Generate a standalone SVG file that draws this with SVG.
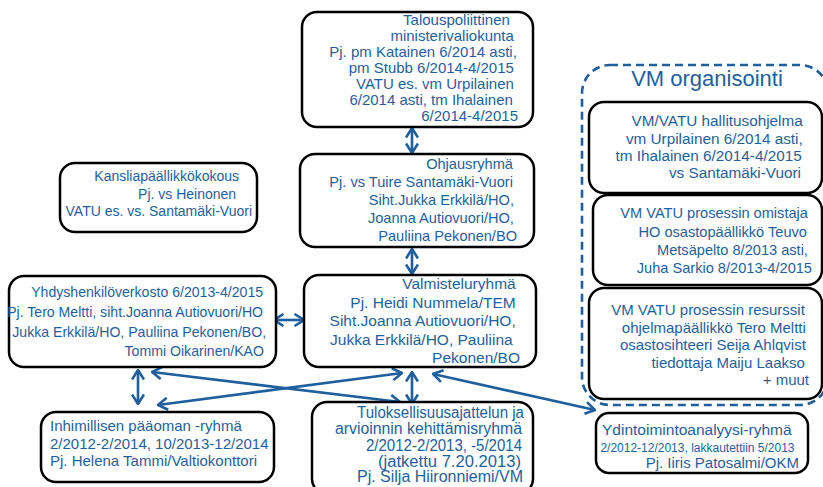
<svg xmlns="http://www.w3.org/2000/svg" width="823" height="487" viewBox="0 0 823 487">
<defs>
<style>
.box{fill:#fff;stroke:#000;stroke-width:2.5}
.t{font-family:"Liberation Sans",Arial,sans-serif;fill:#1f5f9e}
.r{text-anchor:end}
.c{fill:none;stroke:#1f5f9e;stroke-width:2.6;marker-start:url(#ah);marker-end:url(#ah)}
.dash{fill:none;stroke:#1f5f9e;stroke-width:2.6;stroke-dasharray:8 5}
</style>
<marker id="ah" viewBox="0 0 12 14" refX="11" refY="7" markerWidth="12" markerHeight="14" markerUnits="userSpaceOnUse" orient="auto-start-reverse">
<path d="M1.5,1 L11,7 L1.5,13" fill="none" stroke="#1f5f9e" stroke-width="2.6"/>
</marker>
</defs>
<rect width="823" height="487" fill="#fff"/>

<g id="vm-organisointi">
<rect class="dash" x="582" y="65" width="246" height="340" rx="28"/>
<text class="t" x="707" y="86" font-size="22" text-anchor="middle">VM organisointi</text>
</g>

<g id="connectors">
<line class="c" x1="412" y1="128" x2="412" y2="153"/>
<line class="c" x1="412" y1="249" x2="412" y2="274"/>
<line class="c" x1="274" y1="320" x2="304" y2="320"/>
<line class="c" x1="138" y1="370" x2="138" y2="404"/>
<line class="c" x1="152" y1="372" x2="400" y2="402"/>
<line class="c" x1="158" y1="405" x2="402" y2="373"/>
<line class="c" x1="412" y1="372" x2="412" y2="404"/>
<line class="c" x1="433" y1="374" x2="595" y2="410"/>
</g>

<g id="talouspoliittinen">
<rect class="box" x="302" y="12" width="231" height="115" rx="15"/>
<text class="t r" font-size="15">
<tspan x="514" y="25">Talouspoliittinen</tspan>
<tspan x="518" y="41">ministerivaliokunta</tspan>
<tspan x="521" y="57">Pj. pm Katainen 6/2014 asti,</tspan>
<tspan x="518" y="73">pm Stubb 6/2014-4/2015</tspan>
<tspan x="518" y="89">VATU es. vm Urpilainen</tspan>
<tspan x="517" y="105">6/2014 asti, tm Ihalainen</tspan>
<tspan x="518" y="121">6/2014-4/2015</tspan>
</text>
</g>

<g id="ohjausryhma">
<rect class="box" x="300" y="154" width="234" height="93" rx="15"/>
<text class="t r" font-size="14.6">
<tspan x="517" y="169">Ohjausryhmä</tspan>
<tspan x="517" y="187">Pj. vs Tuire Santamäki-Vuori</tspan>
<tspan x="518" y="205">Siht.Jukka Erkkilä/HO,</tspan>
<tspan x="518" y="223">Joanna Autiovuori/HO,</tspan>
<tspan x="517" y="241">Pauliina Pekonen/BO</tspan>
</text>
</g>

<g id="kansliapaallikkokokous">
<rect class="box" x="60" y="163" width="197" height="69" rx="15"/>
<text class="t r" font-size="14">
<tspan x="243" y="181">Kansliapäällikkökokous</tspan>
<tspan x="240" y="198.5">Pj. vs Heinonen</tspan>
<tspan x="252" y="216">VATU es. vs. Santamäki-Vuori</tspan>
</text>
</g>

<g id="valmisteluryhma">
<rect class="box" x="304" y="275" width="232" height="92" rx="15"/>
<text class="t r" font-size="15.5">
<tspan x="520" y="289">Valmisteluryhmä</tspan>
<tspan x="520" y="307.5">Pj. Heidi Nummela/TEM</tspan>
<tspan x="520" y="326">Siht.Joanna Autiovuori/HO,</tspan>
<tspan x="517" y="344.5">Jukka Erkkilä/HO, Pauliina</tspan>
<tspan x="520" y="363">Pekonen/BO</tspan>
</text>
</g>

<g id="yhdyshenkiloverkosto">
<rect class="box" x="9" y="276" width="267" height="91" rx="15"/>
<text class="t r" font-size="14.1">
<tspan x="267" y="297">Yhdyshenkilöverkosto 6/2013-4/2015</tspan>
<tspan x="267" y="317">Pj. Tero Meltti, siht.Joanna Autiovuori/HO</tspan>
<tspan x="270" y="337">Jukka Erkkilä/HO, Pauliina Pekonen/BO,</tspan>
<tspan x="264" y="356">Tommi Oikarinen/KAO</tspan>
</text>
</g>

<g id="inhimillisen-paaoman-ryhma">
<rect class="box" x="41" y="412" width="233" height="70" rx="15"/>
<text class="t" font-size="15">
<tspan x="50" y="431">Inhimillisen pääoman -ryhmä</tspan>
<tspan x="50" y="448.5">2/2012-2/2014, 10/2013-12/2014</tspan>
<tspan x="50" y="466">Pj. Helena Tammi/Valtiokonttori</tspan>
</text>
</g>

<g id="tuloksellisuus">
<rect class="box" x="312" y="402" width="221" height="92" rx="15"/>
<g class="t r" font-size="16">
<text x="524" y="418" textLength="167" lengthAdjust="spacingAndGlyphs">Tuloksellisuusajattelun ja</text>
<text x="522" y="434" textLength="187" lengthAdjust="spacingAndGlyphs">arvioinnin kehittämisryhmä</text>
<text x="522" y="450.5" textLength="156" lengthAdjust="spacingAndGlyphs">2/2012-2/2013, -5/2014</text>
<text x="521" y="466.5" textLength="143" lengthAdjust="spacingAndGlyphs">(jatkettu 7.20.2013)</text>
<text x="523" y="482" textLength="166" lengthAdjust="spacingAndGlyphs">Pj. Silja Hiironniemi/VM</text>
</g>
</g>

<g id="vm-vatu-hallitusohjelma">
<rect class="box" x="589" y="102" width="233" height="91" rx="15"/>
<text class="t r" font-size="15.3">
<tspan x="807" y="126">VM/VATU hallitusohjelma</tspan>
<tspan x="807" y="143.5">vm Urpilainen 6/2014 asti,</tspan>
<tspan x="806" y="161">tm Ihalainen 6/2014-4/2015</tspan>
<tspan x="801" y="178">vs Santamäki-Vuori</tspan>
</text>
</g>

<g id="vm-vatu-omistaja">
<rect class="box" x="593" y="195" width="229" height="90" rx="15"/>
<text class="t r" font-size="14.6">
<tspan x="812" y="218">VM VATU prosessin omistaja</tspan>
<tspan x="811" y="236.5">HO osastopäällikkö Teuvo</tspan>
<tspan x="812" y="255">Metsäpelto 8/2013 asti,</tspan>
<tspan x="812" y="273">Juha Sarkio 8/2013-4/2015</tspan>
</text>
</g>

<g id="vm-vatu-resurssit">
<rect class="box" x="589" y="288" width="233" height="111" rx="15"/>
<text class="t r" font-size="15">
<tspan x="809" y="315">VM VATU prosessin resurssit</tspan>
<tspan x="810" y="332.5">ohjelmapäällikkö Tero Meltti</tspan>
<tspan x="810" y="350">osastosihteeri Seija Ahlqvist</tspan>
<tspan x="809" y="367.5">tiedottaja Maiju Laakso</tspan>
<tspan x="809" y="385">+ muut</tspan>
</text>
</g>

<g id="ydintoimintoanalyysi">
<rect class="box" x="596" y="413" width="212" height="60" rx="13"/>
<text class="t r">
<tspan x="796" y="435" font-size="15.5">Ydintoimintoanalyysi-ryhmä</tspan>
<tspan x="799" y="452" font-size="12">2/2012-12/2013, lakkautettiin 5/2013</tspan>
<tspan x="799" y="468" font-size="15">Pj. Iiris Patosalmi/OKM</tspan>
</text>
</g>
</svg>
